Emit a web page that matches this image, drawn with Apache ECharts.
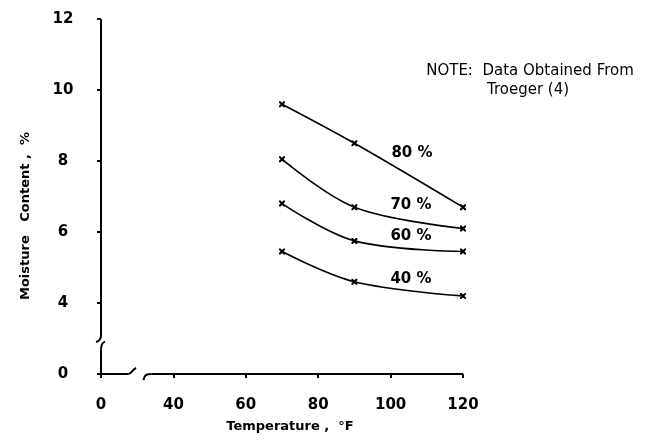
<!DOCTYPE html>
<html><head><meta charset="utf-8">
<script src="https://cdn.jsdelivr.net/npm/echarts@6/dist/echarts.min.js"></script>
<style>html,body{margin:0;padding:0;background:#fff}#c{width:652px;height:442px}</style>
</head><body><div id="c"></div>
<script>
// Temperature (°F) at which points were read
const temperatures = [70, 90, 120];
// Moisture content (%) per relative humidity curve
const rh80 = [9.6, 8.5, 6.7];
const rh70 = [8.05, 6.7, 6.1];
const rh60 = [6.8, 5.75, 5.45];
const rh40 = [5.45, 4.6, 4.2];
const curveLabels = ['80 %', '70 %', '60 %', '40 %'];
// axis tick labels (the axis is broken: first tick position shows "0")
const xTickValues = [20, 40, 60, 80, 100, 120];
const xTickTexts = ['0', '40', '60', '80', '100', '120'];
const yTickValues = [2, 4, 6, 8, 10, 12];
const yTickTexts = ['0', '4', '6', '8', '10', '12'];
const xTitle = 'Temperature ,  °F';
const yTitle = 'Moisture   Content ,  %';
const noteLines = ['NOTE:  Data Obtained From', 'Troeger (4)'];

const FONT = '"DejaVu Sans", sans-serif';
const chart = echarts.init(document.getElementById('c'), null, {renderer: 'canvas'});

function pairs(ys) { return temperatures.map((t, i) => [t, ys[i]]); }
const crossSymbol = 'path://M0,0L2.5,0L5,2.5L7.5,0L10,0L10,2.5L7.5,5L10,7.5L10,10L7.5,10L5,7.5L2.5,10L0,10L0,7.5L2.5,5L0,2.5Z';

const seriesData = [rh80, rh70, rh60, rh40];
const series = seriesData.map((ys, i) => ({
  type: 'line',
  name: curveLabels[i],
  data: pairs(ys),
  smooth: 0.35,
  symbol: crossSymbol,
  symbolSize: 6,
  showSymbol: true,
  lineStyle: {color: '#000', width: 1.6},
  itemStyle: {color: '#000'},
  animation: false
}));

chart.setOption({
  animation: false,
  backgroundColor: '#fff',
  grid: {left: 101, right: 189, top: 19, bottom: 68},
  xAxis: {
    type: 'value', min: 20, max: 120, interval: 20,
    splitLine: {show: false},
    axisLine: {show: false},
    axisTick: {show: true, length: 4, lineStyle: {color: '#000', width: 2}},
    axisLabel: {
      margin: 24, color: '#000', fontFamily: FONT, fontSize: 15, fontWeight: 'bold',
      formatter: v => { const k = xTickValues.indexOf(v); return k >= 0 ? xTickTexts[k] : ''; }
    }
  },
  yAxis: {
    type: 'value', min: 2, max: 12, interval: 2,
    splitLine: {show: false},
    axisLine: {show: false},
    axisTick: {show: true, length: 4, lineStyle: {color: '#000', width: 2}},
    axisLabel: {
      margin: 38, align: 'center', color: '#000', fontFamily: FONT, fontSize: 15, fontWeight: 'bold',
      formatter: v => { const k = yTickValues.indexOf(v); return k >= 0 ? yTickTexts[k] : ''; }
    }
  },
  series: series
});

// Axis lines with break marks
const o = chart.convertToPixel({gridIndex: 0}, [20, 2]);
const tr = chart.convertToPixel({gridIndex: 0}, [120, 12]);
const ax = o[0], ay = o[1];
const yb1 = chart.convertToPixel({gridIndex: 0}, [20, 3.1])[1];
const yb2 = chart.convertToPixel({gridIndex: 0}, [20, 2.8])[1];
const xb1 = chart.convertToPixel({gridIndex: 0}, [27.5, 2])[0];
const xb2 = chart.convertToPixel({gridIndex: 0}, [32, 2])[0];
const stroke = {stroke: '#000', lineWidth: 2, fill: null};
function seg(x1, y1, x2, y2) { return {type: 'line', shape: {x1, y1, x2, y2}, style: stroke, silent: true}; }
function bez(x1, y1, c1x, c1y, c2x, c2y, x2, y2) {
  return {type: 'bezierCurve', shape: {x1, y1, cpx1: c1x, cpy1: c1y, cpx2: c2x, cpy2: c2y, x2, y2}, style: stroke, silent: true};
}
const graphics = [
  seg(ax, tr[1], ax, yb1),
  bez(ax, yb1, ax, yb1 + 4, ax - 1, yb1 + 6, ax - 5, yb1 + 7),
  bez(ax + 4, yb2 - 4, ax + 1, yb2 - 3, ax, yb2 - 1, ax, yb2 + 4),
  seg(ax, yb2 + 4, ax, ay),
  seg(ax, ay, xb1, ay),
  bez(xb1, ay, xb1 + 4, ay, xb1 + 4, ay - 5, xb1 + 8, ay - 6),
  bez(xb2 - 1, ay + 6, xb2, ay + 1, xb2 + 2, ay, xb2 + 7, ay),
  seg(xb2 + 7, ay, tr[0], ay),
  // axis titles
  {type: 'text', x: 290, y: 427, style: {text: xTitle, font: `bold 13px ${FONT}`, fill: '#000', align: 'center', verticalAlign: 'middle'}, silent: true},
  {type: 'text', x: 26, y: 216, rotation: Math.PI / 2, style: {text: yTitle, font: `bold 13px ${FONT}`, fill: '#000', align: 'center', verticalAlign: 'middle'}, silent: true},
  // note
  {type: 'text', x: 530, y: 71, style: {text: noteLines[0], font: `15px ${FONT}`, fill: '#000', align: 'center', verticalAlign: 'middle'}, silent: true},
  {type: 'text', x: 528, y: 90, style: {text: noteLines[1], font: `15px ${FONT}`, fill: '#000', align: 'center', verticalAlign: 'middle'}, silent: true}
];
// curve labels placed next to curves
const labelAnchors = [[412, 153], [411, 205], [411, 236], [411, 279]];
curveLabels.forEach((t, i) => graphics.push({type: 'text', x: labelAnchors[i][0], y: labelAnchors[i][1],
  style: {text: t, font: `bold 15px ${FONT}`, fill: '#000', align: 'center', verticalAlign: 'middle'}, silent: true}));
chart.setOption({graphic: graphics});
</script></body></html>
